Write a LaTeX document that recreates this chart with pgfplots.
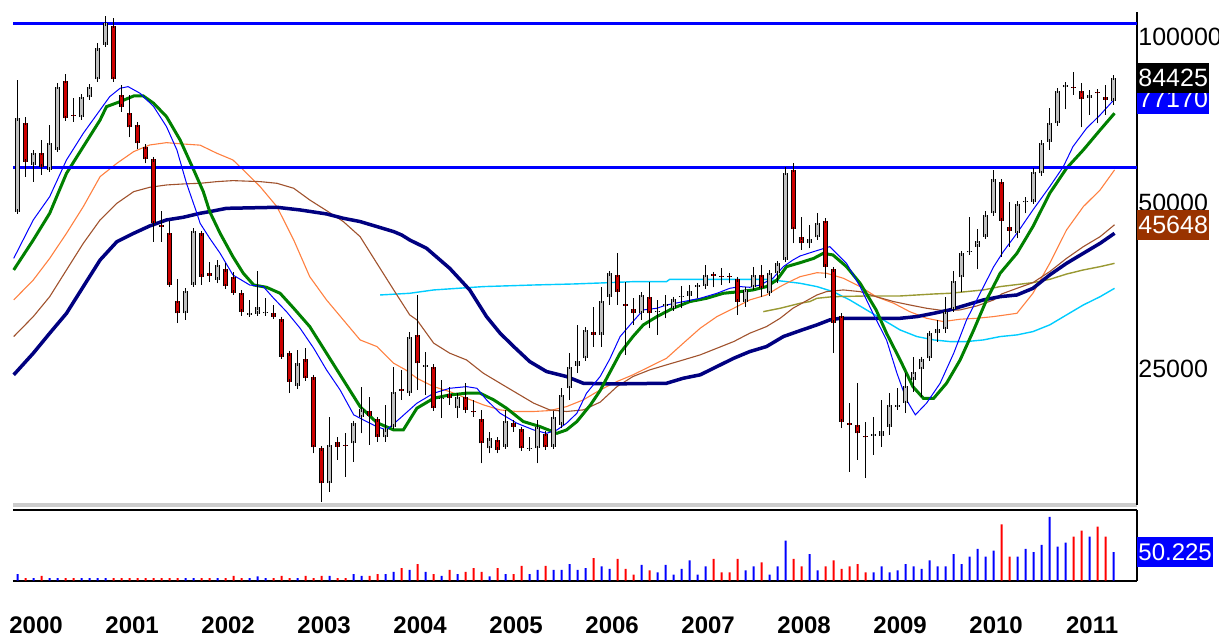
\documentclass[border=0pt]{standalone}
\usepackage{pgfplots}
\pgfplotsset{compat=1.18}
\usepackage{pgfplotstable}
\usepackage{fontspec}
\setmainfont{Liberation Sans}

\definecolor{candleup}{RGB}{192,192,192}
\definecolor{candledown}{RGB}{204,0,0}
\definecolor{maorange}{RGB}{255,128,64}
\definecolor{mabrown}{RGB}{160,82,45}
\definecolor{magreen}{RGB}{0,128,0}
\definecolor{manavy}{RGB}{0,0,128}
\definecolor{macyan}{RGB}{0,204,255}
\definecolor{maolive}{RGB}{153,153,51}
\definecolor{volup}{RGB}{0,0,255}
\definecolor{voldown}{RGB}{255,0,0}
\definecolor{tagbrown}{RGB}{153,51,0}

\tikzset{tag/.style={anchor=west, inner xsep=0.5pt, inner ysep=0pt,
  minimum height=15pt, text=white, font=\fontsize{12.5}{13}\selectfont}}
\pgfplotsset{
  wick/.style={draw=none, mark=none,
    error bars/.cd, y dir=plus, y explicit, error mark=none,
    error bar style={draw=black, line width=0.6pt}, /pgfplots/.cd},
  bodyedge/.style={draw=none, mark=none,
    error bars/.cd, y dir=plus, y explicit, error mark=none,
    error bar style={draw=black, line width=2.5pt}, /pgfplots/.cd},
  bodyfill/.style={draw=none, mark=none,
    error bars/.cd, y dir=both, y explicit, error mark=-,
    error mark options={draw=black, line width=0.5pt, mark size=1.25pt},
    error bar style={draw=#1, line width=1.5pt}, /pgfplots/.cd},
}

% monthly bars Nov 1999 .. Apr 2011: open high low close, volume, d=1 up month
\pgfplotstableread{
k O H L C V d
0 48220 83560 47890 71200 11.6 1
1 69930 71700 55810 59420 4.7 0
2 58600 62390 54660 61700 4.7 1
3 61700 65040 56200 58190 8.7 0
4 57390 69250 56990 64320 4.7 1
5 62390 82410 61960 81270 4.7 1
6 83220 85690 70710 71200 4.7 0
7 72200 77410 70220 72000 4.7 0
8 71500 77950 71500 77950 4.7 1
9 77730 81500 77090 81270 4.7 1
10 83800 97390 83800 95380 4.7 1
11 96710 109170 96710 105870 4.7 1
12 104700 108100 83800 83800 4.7 0
13 78490 81840 73210 74760 4.7 0
14 72910 78490 65770 68580 4.7 0
15 69250 69250 62560 64150 4.7 0
16 63260 63700 59010 60010 4.7 0
17 60010 60010 42540 45930 4.7 0
18 45610 48430 42540 45300 4.7 0
19 44180 46450 35350 35500 4.7 0
20 33210 36350 30260 31540 4.7 0
21 31540 34670 30680 34670 4.7 1
22 35500 44550 35500 44550 4.7 1
23 44050 44050 35500 36760 4.7 0
24 37280 39140 36000 36870 4.7 0
25 36250 39410 35750 38600 4.7 1
26 37910 38860 35260 35350 4.7 0
27 36760 37540 34290 34380 8.7 0
28 34380 34380 31200 31760 4.7 0
29 31330 33350 31200 31540 4.7 1
30 31460 37700 31200 32340 7.6 1
31 31540 33580 31200 31760 4.7 1
32 31540 32660 30770 31110 4.7 0
33 30770 30890 26140 26330 8.7 0
34 26700 26880 22590 23720 4.7 0
35 23290 27070 22970 25600 4.7 1
36 26040 27260 23880 24050 8.7 0
37 24150 24220 17580 18020 4.7 0
38 17950 17950 14370 15510 8.7 0
39 15510 20490 14980 18200 8.7 1
40 18460 18850 17100 18080 4.7 0
41 18200 19110 15950 18130 4.7 0
42 18330 20070 16980 19930 11.6 1
43 20430 23220 19110 21130 8.7 1
44 20930 22270 18200 20550 8.7 0
45 20260 20490 18460 18850 11.6 0
46 18790 21520 18460 19430 11.6 1
47 19650 25250 19520 22740 15.7 1
48 22970 24900 21970 22840 22.1 0
49 22590 29220 22430 28620 19.2 1
50 28820 34050 22900 25600 29.1 0
51 25250 26880 22430 25430 15.7 1
52 25250 25250 21070 21220 11.6 0
53 22060 23880 20350 22180 8.7 1
54 22520 23220 21520 22120 19.2 0
55 21220 22590 20350 22270 11.6 1
56 22270 23550 20780 21070 15.7 0
57 20980 21970 20490 20860 22.1 0
58 20260 21070 16860 18330 15.7 0
59 17950 19250 17580 18720 7.6 1
60 18590 18720 17580 17830 22.1 0
61 18080 21070 18080 20150 11.6 1
62 19930 20210 19250 19600 11.6 0
63 19430 19520 17830 17950 26.2 0
64 17900 18850 17830 18000 11.6 1
65 17950 20210 16860 19650 19.2 1
66 19060 19250 17830 18020 26.2 0
67 18080 20930 17950 20490 19.2 1
68 19790 23060 19520 22430 19.2 1
69 23060 26700 21970 25250 29.1 1
70 25320 30050 24560 25890 19.2 1
71 26140 29630 25960 29420 22.1 1
72 29220 32430 27450 28820 39.5 0
73 28820 35260 27450 33260 25.0 1
74 33810 37280 32660 37280 20.9 1
75 37020 40520 32660 34530 38.4 0
76 32750 36000 26510 32570 20.9 0
77 32080 33580 30050 31540 10.5 0
78 31540 34290 30680 34050 27.9 1
79 33810 36000 29630 31540 18.0 0
80 31680 33350 28820 31860 14.5 1
81 32570 34050 30890 32750 27.9 1
82 32210 33580 31990 33440 10.5 1
83 33720 35350 32210 33910 20.9 1
84 33910 35500 33120 34670 35.5 1
85 35260 35500 33580 35450 10.5 1
86 35350 38600 35160 37020 25.0 1
87 37120 37540 35160 36910 38.4 0
88 36870 38060 35500 36660 14.5 0
89 36870 37370 35750 36660 14.5 0
90 36350 36350 31330 33120 38.4 0
91 33120 35010 32430 34770 18.0 1
92 35160 38330 35160 37020 25.0 1
93 37020 38600 33810 35010 32.0 0
94 34290 37370 34050 37370 10.5 1
95 37280 39140 35750 38860 25.0 1
96 39410 58190 39140 56750 70.3 1
97 57390 59010 42250 44800 38.4 0
98 43320 47230 41090 42250 25.0 0
99 42250 45610 41380 42960 46.5 1
100 43320 48020 43320 46060 18.0 1
101 46450 46580 36510 38330 25.0 0
102 37910 37910 26700 30340 35.5 0
103 31200 31200 19520 20070 20.9 0
104 19930 21670 16290 19820 25.0 0
105 19790 23550 17100 19110 29.1 0
106 18900 20070 15840 18790 14.5 0
107 18920 20490 17460 19030 14.5 1
108 18900 21970 18080 19330 25.0 1
109 19650 22590 18980 21520 14.5 1
110 21360 23060 21070 21490 18.0 1
111 21670 24560 20780 23290 29.1 1
112 23880 26330 22740 24730 25.0 1
113 24970 26140 22270 26040 20.9 1
114 26140 29020 25960 29020 35.5 1
115 29020 30680 28030 29510 25.0 1
116 29510 33810 29020 31760 25.0 1
117 32080 37700 31900 36150 46.5 1
118 36660 40520 34530 40520 29.1 1
119 40690 47230 40520 40920 42.4 1
120 41660 44800 37910 42720 55.8 1
121 43440 48430 43320 47560 42.4 1
122 47890 57390 47890 55190 52.9 1
123 54660 54660 39960 46450 98.8 0
124 45170 50280 41660 44550 42.4 0
125 44050 50280 43140 49790 42.4 1
126 50140 51340 47890 50420 55.8 1
127 50280 57790 49930 56990 50.0 1
128 56590 64320 56200 64320 62.8 1
129 64590 74240 62390 69930 112.2 1
130 69730 80150 69730 79930 59.9 1
131 81050 82990 73930 81840 66.9 1
132 81270 86520 78490 80820 77.3 0
133 79930 82410 68580 77090 87.8 0
134 77410 80150 72200 78490 77.3 1
135 79480 79930 69730 79040 94.8 0
136 77730 81840 72200 76870 77.3 0
137 76660 84900 75280 84425 50.225 1
}\candles

\begin{document}
\begin{tikzpicture}

% ---- price panel ----
\begin{axis}[
  at={(6.5pt,67pt)}, anchor=south west,
  scale only axis, width=562pt, height=246.5pt,
  ymode=log,
  xmin=-0.5875, xmax=139.91, ymin=14166, ymax=111000,
  axis x line*=bottom, axis y line*=right,
  axis line style={-},
  x axis line style={draw=black!20, line width=2pt},
  y axis line style={draw=black, line width=0.75pt},
  xtick=\empty,
  ytick={25000,50000,100000}, yticklabels={25000,50000,100000},
  tick style={draw=none},
  yticklabel style={anchor=west, inner sep=0pt, xshift=0.5pt,
    font=\fontsize{12.5}{13}\selectfont},
  clip=false,
]
% moving averages
\addplot[macyan, line width=0.7pt] coordinates {
(45.3,34050) (49.0,34290) (52.0,34770) (58.2,35260) (64.5,35500) (69.5,35650)
(74.0,35850) (77.0,36000) (81.1,36000) (81.5,36350) (93.6,36350) (96.1,36000)
(97.8,35750) (99.9,35260) (101.9,34530) (104.0,33350) (106.1,31990) (108.2,30680)
(110.3,29420) (112.4,28620) (114.5,28220) (116.5,28030) (118.6,28030) (120.7,28220)
(122.8,28620) (124.9,28820) (126.9,29220) (129.0,30050) (131.1,31330) (133.2,32660)
(135.3,33810) (137.1,35010)};
\addplot[maolive, line width=0.7pt] coordinates {
(93.2,31760) (95.3,32210) (97.8,32890) (99.0,33120) (99.9,33580) (101.9,33810)
(106.1,33910) (110.3,33910) (114.5,34190) (116.5,34290) (118.6,34530) (120.7,34770)
(122.8,35260) (126.9,35850) (129.0,36350) (131.1,37160) (133.2,37800) (135.3,38330)
(137.1,38860)};
\addplot[maorange, line width=0.55pt] coordinates {
(-0.5,33350) (1.95,36250) (4.0,39680) (6.1,44050) (8.2,49240) (10.3,55810)
(12.4,59010) (14.5,61960) (16.5,63700) (18.6,64320) (20.7,63960) (22.8,63650)
(24.9,61530) (26.9,59840) (28.2,57390) (30.3,53530) (32.4,49240) (34.5,42840)
(36.5,36760) (38.6,33350) (40.7,30680) (42.8,28220) (44.9,27450) (47.0,25600)
(48.5,24900) (49.9,24050) (52.0,23220) (54.0,22740) (56.1,22120) (58.2,21520)
(60.3,21070) (62.4,20930) (64.5,20930) (66.5,21010) (68.6,21360) (70.7,21970)
(72.8,22900) (74.9,23720) (76.9,24390) (79.0,25250) (81.1,26140) (83.2,27840)
(85.3,29630) (87.4,31110) (89.5,32210) (91.5,33350) (93.6,34050) (95.3,35260)
(96.5,36000) (97.8,36760) (99.9,37370) (101.1,37280) (103.2,36510) (105.3,35260)
(107.3,33810) (109.5,32890) (111.5,31760) (113.6,30890) (115.7,30470) (117.8,30770)
(119.9,30890) (122.0,31110) (124.9,31540) (126.9,34290) (129.0,38860) (131.1,44670)
(133.2,49240) (135.3,52790) (137.1,57390)};
\addplot[mabrown, line width=0.55pt] coordinates {
(-0.5,28620) (1.95,31110) (4.0,33810) (6.1,37800) (8.2,42250) (10.3,46580)
(12.4,49930) (14.5,52420) (16.5,53380) (18.6,53900) (20.7,54130) (22.8,54280)
(24.9,54660) (26.9,54890) (30.3,54660) (32.4,54280) (34.5,53160) (36.5,50630)
(38.6,48430) (40.7,46260) (42.8,43440) (44.9,38860) (47.0,34770) (47.8,33350)
(49.0,31330) (49.9,30680) (52.0,27840) (54.0,26700) (56.1,25960) (58.2,24560)
(60.3,23550) (62.4,22590) (64.5,21670) (66.5,21070) (68.6,20930) (70.7,21070)
(72.8,21760) (74.9,23220) (76.9,24220) (79.0,24900) (81.1,25430) (83.2,25960)
(85.3,26510) (87.4,27260) (89.5,28030) (91.5,29020) (93.6,29840) (95.3,30890)
(96.9,32210) (98.2,33000) (99.9,34050) (101.1,34530) (103.2,34770) (105.3,34530)
(107.3,33810) (109.5,33120) (111.5,32660) (113.6,32210) (115.7,31900) (117.8,31990)
(119.9,32530) (122.0,33350) (123.0,34200) (124.9,35010) (126.9,35850) (129.0,37540)
(131.1,39680) (133.2,41660) (135.3,43440) (137.1,45648)};
\addplot[manavy, line width=1.75pt] coordinates {
(-0.5,24390) (1.95,26700) (4.0,29020) (6.1,31540) (8.2,35260) (10.3,39410)
(12.4,42540) (14.5,44050) (16.5,45420) (18.6,46580) (20.7,47100) (22.8,47890)
(24.0,48220) (26.1,48890) (32.4,49100) (35.3,48560) (38.6,47760) (40.7,46900)
(42.8,46260) (44.9,45300) (47.0,44360) (48.0,43740) (49.0,42840) (51.1,41380)
(54.0,38060) (56.5,34770) (58.6,31110) (60.3,29020) (62.0,27450) (64.0,25780)
(66.1,24730) (68.6,24220) (70.7,23550) (74.0,23480) (81.1,23550) (83.2,24050)
(85.3,24390) (87.4,25250) (89.5,26140) (91.5,26880) (93.6,27450) (95.7,28620)
(97.8,29340) (99.9,30050) (101.5,30680) (102.8,30890) (110.3,30890) (112.4,31110)
(114.5,31540) (116.5,31990) (118.6,32660) (120.7,33350) (122.8,33810) (124.9,34050)
(126.9,35010) (128.2,36250) (129.0,37020) (131.1,38860) (133.2,40520) (135.3,42250)
(137.1,44050)};
\addplot[magreen, line width=1.5pt] coordinates {
(-0.5,37800) (1.95,42840) (4.0,47890) (6.1,56590) (8.2,63260) (10.3,70710)
(11.1,74760) (12.8,76340) (14.5,78160) (15.7,78160) (17.0,75810) (18.6,71700)
(20.3,65040) (22.0,57390) (23.2,52420) (24.0,48220) (25.3,44050) (26.9,39960)
(28.2,37280) (29.5,35500) (31.1,35160) (32.8,34290) (34.5,32210) (36.5,29840)
(38.6,26700) (40.7,23880) (42.8,21360) (44.9,19980) (47.0,19380) (48.2,19380)
(49.9,21220) (52.0,22120) (54.0,22430) (56.1,22590) (57.8,22590) (59.5,21970)
(61.1,21220) (63.2,20070) (65.3,19650) (67.4,19110) (68.6,19380) (69.9,20070)
(71.6,21520) (72.8,22840) (74.0,24620) (75.3,26700) (76.9,28620) (78.2,30050)
(79.9,31110) (81.9,32210) (84.0,33120) (86.1,33580) (88.2,34290) (90.3,34530)
(91.9,34770) (93.6,35260) (94.9,36250) (96.1,38330) (97.8,38970) (99.5,39680)
(100.7,40520) (101.9,40240) (103.6,38330) (105.3,35750) (107.3,31990) (108.6,29020)
(110.3,25960) (111.9,23220) (113.2,22120) (114.5,22120) (116.1,23550) (117.8,25960)
(119.5,29420) (121.1,33350) (122.8,37280) (124.9,40520) (126.9,45300) (129.0,52060)
(131.1,57790) (133.2,62390) (135.3,67820) (137.1,72720)};
\addplot[blue, line width=0.5pt] coordinates {
(-0.5,39680) (1.95,46580) (4.0,51340) (6.1,59840) (8.2,66880) (10.3,73730)
(11.5,77950) (12.8,80710) (13.8,81270) (15.3,79040) (17.0,74760) (18.6,68770)
(19.9,62390) (21.1,54280) (22.4,47890) (22.8,45930) (24.0,43140) (25.3,40520)
(26.9,37020) (29.0,35500) (30.7,35260) (32.0,33580) (33.6,31760) (35.3,29630)
(37.0,27260) (38.6,24900) (40.3,22900) (42.0,20640) (43.6,20070) (44.9,19650)
(46.1,19380) (47.8,20350) (49.9,21670) (52.0,22590) (54.0,23060) (56.1,23220)
(57.4,23060) (58.6,21970) (60.3,20780) (62.4,19930) (64.5,19380) (66.1,19110)
(67.4,19380) (68.6,19930) (69.9,20780) (71.1,22590) (72.8,24220) (74.0,26040)
(75.3,28620) (76.9,30470) (78.2,31990) (79.9,32210) (81.1,32660) (83.2,33120)
(85.3,33580) (87.4,34290) (89.0,35010) (90.3,35260) (91.5,35160) (92.8,35500)
(94.4,36510) (95.7,38330) (96.9,39410) (97.8,40070) (99.5,40810) (101.5,41660)
(103.6,38860) (105.3,35260) (106.9,31540) (108.6,28220) (109.9,24560) (111.1,21970)
(112.2,20640) (113.6,21670) (115.3,23550) (117.0,26700) (118.6,30680) (120.3,34290)
(122.0,38330) (123.2,40810) (124.9,44050) (126.9,48560) (129.0,53530) (130.7,58190)
(131.9,63260) (133.6,68290) (135.3,72200) (137.1,77170)};
% horizontal levels
\addplot[blue, line width=1.6pt] coordinates {(-0.5875,105870) (139.91,105870)};
\addplot[blue, line width=1.6pt] coordinates {(-0.5875,58030) (139.91,58030)};
% candles: wicks
\addplot[wick] table[x=k, y=L, y error plus expr=\thisrow{H}-\thisrow{L}] {\candles};
% candles: rising bodies
\addplot[restrict expr to domain={\thisrow{d}}{0.5:1.5}, bodyedge]
  table[x=k, y=O, y error plus expr=\thisrow{C}-\thisrow{O}] {\candles};
\addplot[restrict expr to domain={\thisrow{d}}{0.5:1.5}, bodyfill=candleup]
  table[x=k, y=O, y error plus expr=\thisrow{C}-\thisrow{O}, y error minus expr=0] {\candles};
% candles: falling bodies
\addplot[restrict expr to domain={\thisrow{d}}{-0.5:0.5}, bodyedge]
  table[x=k, y=C, y error plus expr=\thisrow{O}-\thisrow{C}] {\candles};
\addplot[restrict expr to domain={\thisrow{d}}{-0.5:0.5}, bodyfill=candledown]
  table[x=k, y=C, y error plus expr=\thisrow{O}-\thisrow{C}, y error minus expr=0] {\candles};
% value tags
\node[tag, fill=blue] at (axis cs:139.91,77170) {77170};
\node[tag, fill=black] at (axis cs:139.91,84425) {84425};
\node[tag, fill=tagbrown] at (axis cs:139.91,45648) {45648};
\end{axis}

% ---- volume panel ----
\begin{axis}[
  at={(6.5pt,29.15pt)}, anchor=south west,
  scale only axis, width=562pt, height=35.6pt,
  xmin=-0.5875, xmax=139.91, ymin=0, ymax=125,
  axis x line*=bottom, axis y line*=right,
  axis line style={-},
  x axis line style={draw=black, line width=1pt},
  y axis line style={draw=black, line width=0.75pt},
  ytick=\empty,
  xtick={2.3,14.3,26.3,38.3,50.3,62.3,74.3,86.3,98.3,110.3,122.3,134.3},
  xticklabels={2000,2001,2002,2003,2004,2005,2006,2007,2008,2009,2010,2011},
  tick style={draw=none},
  xticklabel style={anchor=base, yshift=-26.4pt,
    font=\fontsize{12}{13}\selectfont\bfseries},
  clip=false,
]
\addplot[ybar, bar width=1pt, bar shift=0pt, fill=volup, draw=none,
  restrict expr to domain={\thisrow{d}}{0.5:1.5}] table[x=k, y=V] {\candles};
\addplot[ybar, bar width=1pt, bar shift=0pt, fill=voldown, draw=none,
  restrict expr to domain={\thisrow{d}}{-0.5:0.5}] table[x=k, y=V] {\candles};
\draw[black, line width=1pt] (rel axis cs:0,1) -- (rel axis cs:1,1);
\node[tag, fill=blue, font=\fontsize{12}{13}\selectfont] at (axis cs:139.91,50.225) {50.225};
\end{axis}

\pgfresetboundingbox
\path[use as bounding box] (0pt,0pt) rectangle (609.5pt,319.5pt);
\end{tikzpicture}
\end{document}
